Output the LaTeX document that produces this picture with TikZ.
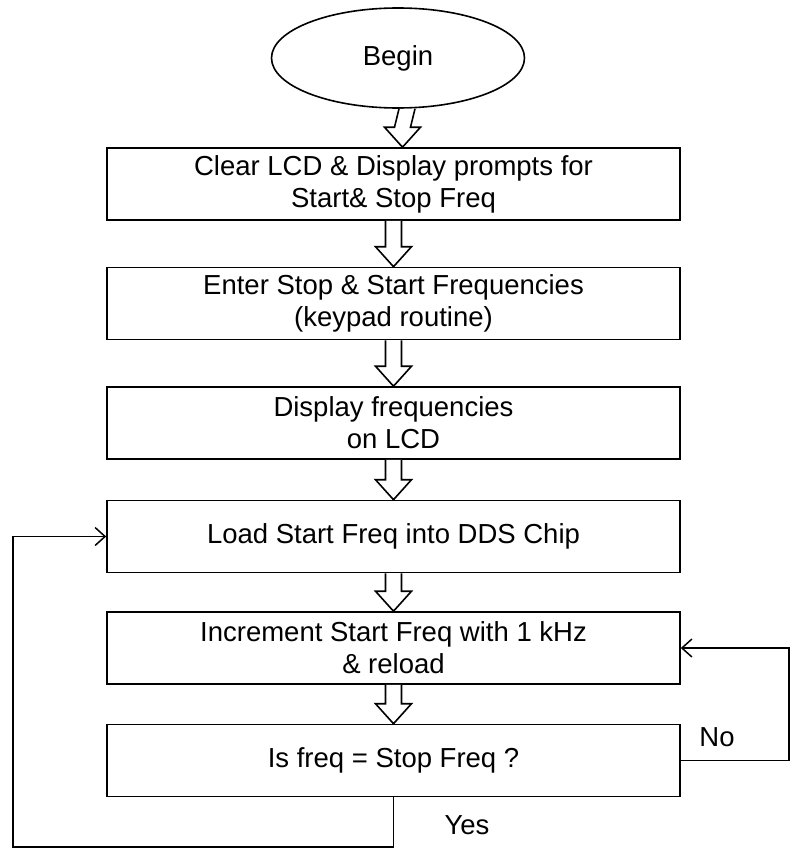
\documentclass[tikz,border=0pt]{standalone}
\usepackage{fontspec}
\setmainfont{Liberation Sans}
\usetikzlibrary{shapes.geometric,arrows.meta,calc}

% Hollow block arrow between two stacked nodes; #1 = horizontal offset
\newcommand\blockarrow[3]{%
  \draw[blockarr]
    ($(#2.south)+(#1-8,0)$) -- ($(#3.north)+(#1-8,-20)$) --
    ($(#3.north)+(#1-18,-20)$) -- ($(#3.north)+(#1,0)$) --
    ($(#3.north)+(#1+18,-20)$) -- ($(#3.north)+(#1+8,-20)$) --
    ($(#2.south)+(#1+8,0)$);}

\begin{document}
\begin{tikzpicture}[x=1pt,y=-1pt,
  every node/.style={font=\fontsize{27.5}{32}\selectfont},
  flowbox/.style={draw, line width=1.6pt, minimum width=573pt,
    minimum height=72pt, align=center, inner sep=0pt},
  terminal/.style={draw, ellipse, line width=1.6pt, minimum width=253pt,
    minimum height=100pt, inner sep=0pt},
  blockarr/.style={draw, line width=1.6pt, line join=miter, fill=white},
  loopline/.style={draw, line width=1.6pt,
    -{Straight Barb[length=10pt,width=18pt,line width=1.5pt]}},
  tag/.style={font=\fontsize{27.5}{32}\selectfont}
]
\useasboundingbox (0,0) rectangle (792,859);

\node[terminal] (begin) at (398,58) {Begin};
\node[flowbox] (clear) at (393.5,184) {Clear LCD \& Display prompts for\\Start\& Stop Freq};
\node[flowbox] (enter) at (393.5,303.5) {Enter Stop \& Start Frequencies\\(keypad routine)};
\node[flowbox] (show) at (393.5,423) {Display frequencies\\on LCD};
\node[flowbox] (load) at (393.5,536.5) {Load Start Freq into DDS Chip};
\node[flowbox] (incr) at (393.5,648) {Increment Start Freq with 1 kHz\\\& reload};
\node[flowbox] (test) at (393.5,760.5) {Is freq = Stop Freq ?};

\blockarrow{9}{begin}{clear}
\blockarrow{0}{clear}{enter}
\blockarrow{0}{enter}{show}
\blockarrow{0}{show}{load}
\blockarrow{0}{load}{incr}
\blockarrow{0}{incr}{test}

% "Yes" branch back to loading the start frequency
\coordinate (bl) at (13,847);
\draw[loopline] (test.south) |- (bl) |- (load.west);
\node[tag] (yes) at (467,825) {Yes};

% "No" branch back to the increment step
\coordinate (rside) at (789,700);
\draw[loopline] (test.east) -| (rside) |- (incr.east);
\node[tag] (no) at (717,737) {No};
\end{tikzpicture}
\end{document}
